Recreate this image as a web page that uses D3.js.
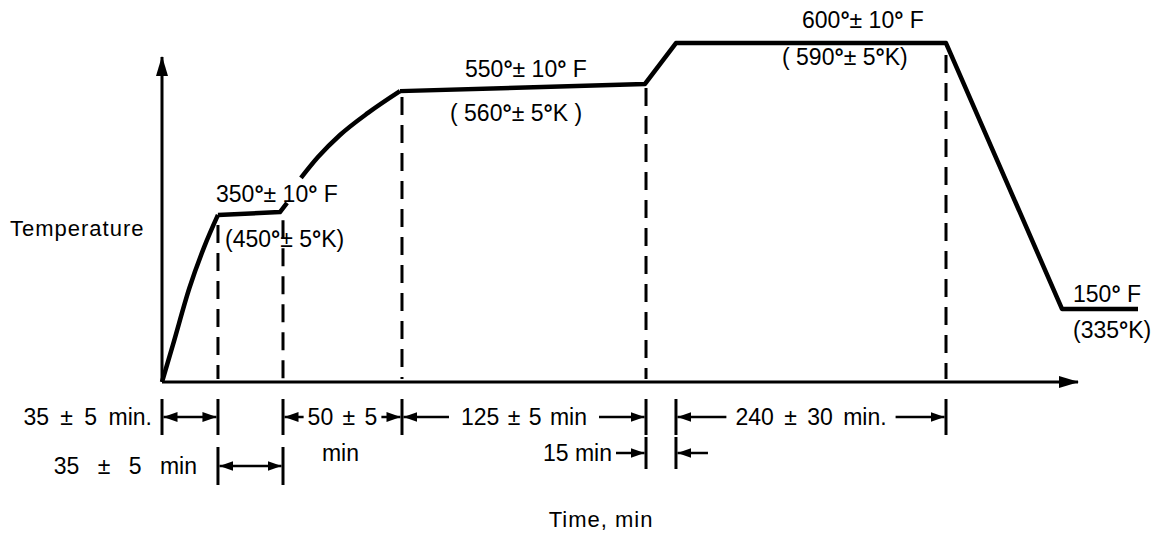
<!DOCTYPE html>
<html><head><meta charset="utf-8">
<script src="https://cdn.jsdelivr.net/npm/d3@7"></script>
<style>
body{margin:0;background:#fff}
text{font-family:"Liberation Sans",Arial,Helvetica,sans-serif;fill:#000}
</style>
</head><body>
<svg id="chart" width="1164" height="535"></svg>
<script>
// ---------------- data (schematic units: time 0..100, level 0..100) ----------------
const heatTime  = [0, 1.2, 3.0, 4.6, 6.11];
const heatLevel = [0, 11.5, 29, 41.5, 51.4];
const soak1Time  = [6.11, 12.88, 13.65];
const soak1Level = [51.4, 52.3, 55.1];
const rise2Time  = [15.17, 17.03, 19.43, 22.49, 25.98];
const rise2Level = [62.8, 69.2, 76.0, 82.8, 89.5];
const mainTime  = [25.98, 52.73, 56.11, 85.59, 98.25, 106.55];
const mainLevel = [89.5, 91.7, 104.3, 104.3, 22.5, 22.5];
const stageTime = [6.11, 13.21, 26.2, 52.84, 85.59];
const stageTop  = [48.3, 49.8, 87.7, 90.5, 100.6];
const boundaryTime = [0, 6.11, 13.21, 26.2, 52.84, 56.11, 85.59];
const spanFrom = [0, 6.11, 13.21, 26.2, 52.84, 56.11];
const spanTo   = [6.11, 13.21, 26.2, 52.84, 56.11, 85.59];
const spanLabels = ["35 ± 5 min.", "35 ± 5 min", "50 ± 5", "125 ± 5 min", "15 min", "240 ± 30 min."];
const spanSubLabels = ["", "", "min", "", "", ""];
const tempF = ["350°± 10° F", "550°± 10° F", "600°± 10° F", "150° F"];
const tempK = ["(450°± 5°K)", "( 560°± 5°K )", "( 590°± 5°K)", "(335°K)"];
const yTitle = "Temperature";
const xTitle = "Time, min";

// ---------------- layout ----------------
const W = 1164, H = 535;
const x = d3.scaleLinear().domain([0, 100]).range([162, 1078]);
const y = d3.scaleLinear().domain([0, 100]).range([382, 57]);
const FS = 23;
const rowY = {r1: 417, r2L: 466, r2R: 453};
const spanLayout = [
  {row: "r1", mode: "leftLabel", gap: 10, ws: 5},
  {row: "r2L", mode: "leftLabel", gap: 21, ws: 12},
  {row: "r1", mode: "mid", gap: 4, ws: 3},
  {row: "r1", mode: "mid", gap: 12, ws: 2},
  {row: "r2R", mode: "outside", gap: 34, arrowLen: 30, ws: 0},
  {row: "r1", mode: "mid", gap: 9, ws: 4}
];
const tempFPos = [[216, 202], [465, 77], [802, 28], [1073, 302]];
const tempKPos = [[225, 247], [450, 121], [782, 65], [1073, 338]];

const svg = d3.select("#chart");
svg.append("rect").attr("width", W).attr("height", H).attr("fill", "#fff");

const defs = svg.append("defs");
defs.append("marker").attr("id", "axArrow")
  .attr("viewBox", "0 0 20 12").attr("refX", 19).attr("refY", 6)
  .attr("markerUnits", "userSpaceOnUse").attr("markerWidth", 20).attr("markerHeight", 12)
  .attr("orient", "auto")
  .append("path").attr("d", "M0,0 L20,6 L0,12 Z").attr("fill", "#000");
defs.append("marker").attr("id", "dimArrow")
  .attr("viewBox", "0 0 14 10").attr("refX", 14).attr("refY", 5)
  .attr("markerUnits", "userSpaceOnUse").attr("markerWidth", 14).attr("markerHeight", 10)
  .attr("orient", "auto-start-reverse")
  .append("path").attr("d", "M0,0 L14,5 L0,10 Z").attr("fill", "#000");

// axes
svg.append("line").attr("x1", x(0)).attr("y1", y(0)).attr("x2", x(0)).attr("y2", y(100))
  .attr("stroke", "#000").attr("stroke-width", 3).attr("marker-end", "url(#axArrow)");
svg.append("line").attr("x1", x(0)).attr("y1", y(0)).attr("x2", x(100)).attr("y2", y(0))
  .attr("stroke", "#000").attr("stroke-width", 3).attr("marker-end", "url(#axArrow)");

// dashed stage boundaries
svg.selectAll("line.stage").data(stageTime).join("line").attr("class", "stage")
  .attr("x1", d => x(d)).attr("x2", d => x(d))
  .attr("y1", (d, i) => y(stageTop[i])).attr("y2", y(0) - 3)
  .attr("stroke", "#000").attr("stroke-width", 3).attr("stroke-dasharray", "18,10");

// profile
const pts = (t, v) => t.map((d, i) => [d, v[i]]);
const lineCurve = d3.line().x(d => x(d[0])).y(d => y(d[1])).curve(d3.curveMonotoneX);
const lineStraight = d3.line().x(d => x(d[0])).y(d => y(d[1]));
const prof = {fill: "none", stroke: "#000", "stroke-width": 4.5, "stroke-linejoin": "round", "stroke-linecap": "butt"};
function styled(sel) { Object.entries(prof).forEach(([k, v]) => sel.attr(k, v)); return sel; }
styled(svg.append("path").attr("d", lineCurve(pts(heatTime, heatLevel))));
styled(svg.append("path").attr("d", lineStraight(pts(soak1Time, soak1Level))));
styled(svg.append("path").attr("d", lineCurve(pts(rise2Time, rise2Level))));
styled(svg.append("path").attr("d", lineStraight(pts(mainTime, mainLevel))));

// temperature labels (degree signs drawn bold, as in the original)
function degText(sel, str) {
  str.split(/(°)/).forEach(part => {
    if (!part) return;
    const ts = sel.append("tspan").text(part);
    if (part === "°") ts.attr("font-weight", "bold");
  });
}
tempF.forEach((d, i) => {
  const t = svg.append("text").attr("x", tempFPos[i][0]).attr("y", tempFPos[i][1])
    .attr("font-size", FS).style("white-space", "pre");
  degText(t, d);
});
tempK.forEach((d, i) => {
  const t = svg.append("text").attr("x", tempKPos[i][0]).attr("y", tempKPos[i][1])
    .attr("font-size", FS).style("white-space", "pre");
  degText(t, d);
});

// titles
svg.append("text").attr("x", 10).attr("y", 236).attr("font-size", 22)
  .attr("letter-spacing", 1).text(yTitle);
svg.append("text").attr("x", 601).attr("y", 527).attr("font-size", 22)
  .attr("letter-spacing", 1).attr("text-anchor", "middle").text(xTitle);

// dimension ticks
const tickRows = [
  {row: "r1", times: boundaryTime, half: 18},
  {row: "r2L", times: [spanFrom[1], spanTo[1]], half: 19},
  {row: "r2R", times: [spanFrom[4], spanTo[4]], half: 16}
];
tickRows.forEach(tr => {
  svg.selectAll(null).data(tr.times).join("line")
    .attr("x1", d => x(d)).attr("x2", d => x(d))
    .attr("y1", rowY[tr.row] - tr.half).attr("y2", rowY[tr.row] + tr.half)
    .attr("stroke", "#000").attr("stroke-width", 3);
});

// dimension arrows + labels
function dimLine(x1, x2, yy, startArrow, endArrow) {
  const l = svg.append("line").attr("x1", x1).attr("x2", x2).attr("y1", yy).attr("y2", yy)
    .attr("stroke", "#000").attr("stroke-width", 2.5);
  if (startArrow) l.attr("marker-start", "url(#dimArrow)");
  if (endArrow) l.attr("marker-end", "url(#dimArrow)");
}
spanLabels.forEach((lab, i) => {
  const L = spanLayout[i];
  const yy = rowY[L.row];
  const a = x(spanFrom[i]), b = x(spanTo[i]);
  if (L.mode === "leftLabel") {
    dimLine(a + 1.5, b - 1.5, yy, true, true);
    svg.append("text").attr("x", a - L.gap).attr("y", yy + 8).attr("font-size", FS)
      .attr("word-spacing", L.ws).attr("text-anchor", "end").text(lab);
  } else if (L.mode === "mid") {
    const t = svg.append("text").attr("x", (a + b) / 2).attr("y", yy + 8).attr("font-size", FS)
      .attr("word-spacing", L.ws).attr("text-anchor", "middle").text(lab);
    const w = t.node().getComputedTextLength();
    dimLine((a + b) / 2 - w / 2 - L.gap, a + 1.5, yy, false, true);
    dimLine((a + b) / 2 + w / 2 + L.gap, b - 1.5, yy, false, true);
    if (spanSubLabels[i]) {
      svg.append("text").attr("x", (a + b) / 2 - 2).attr("y", yy + 44).attr("font-size", FS)
        .attr("text-anchor", "middle").text(spanSubLabels[i]);
    }
  } else if (L.mode === "outside") {
    dimLine(a - L.arrowLen, a - 1.5, yy, false, true);
    dimLine(b + L.arrowLen + 2, b + 1.5, yy, false, true);
    svg.append("text").attr("x", a - L.gap).attr("y", yy + 8).attr("font-size", FS)
      .attr("word-spacing", L.ws).attr("text-anchor", "end").text(lab);
  }
});
</script>
</body></html>
